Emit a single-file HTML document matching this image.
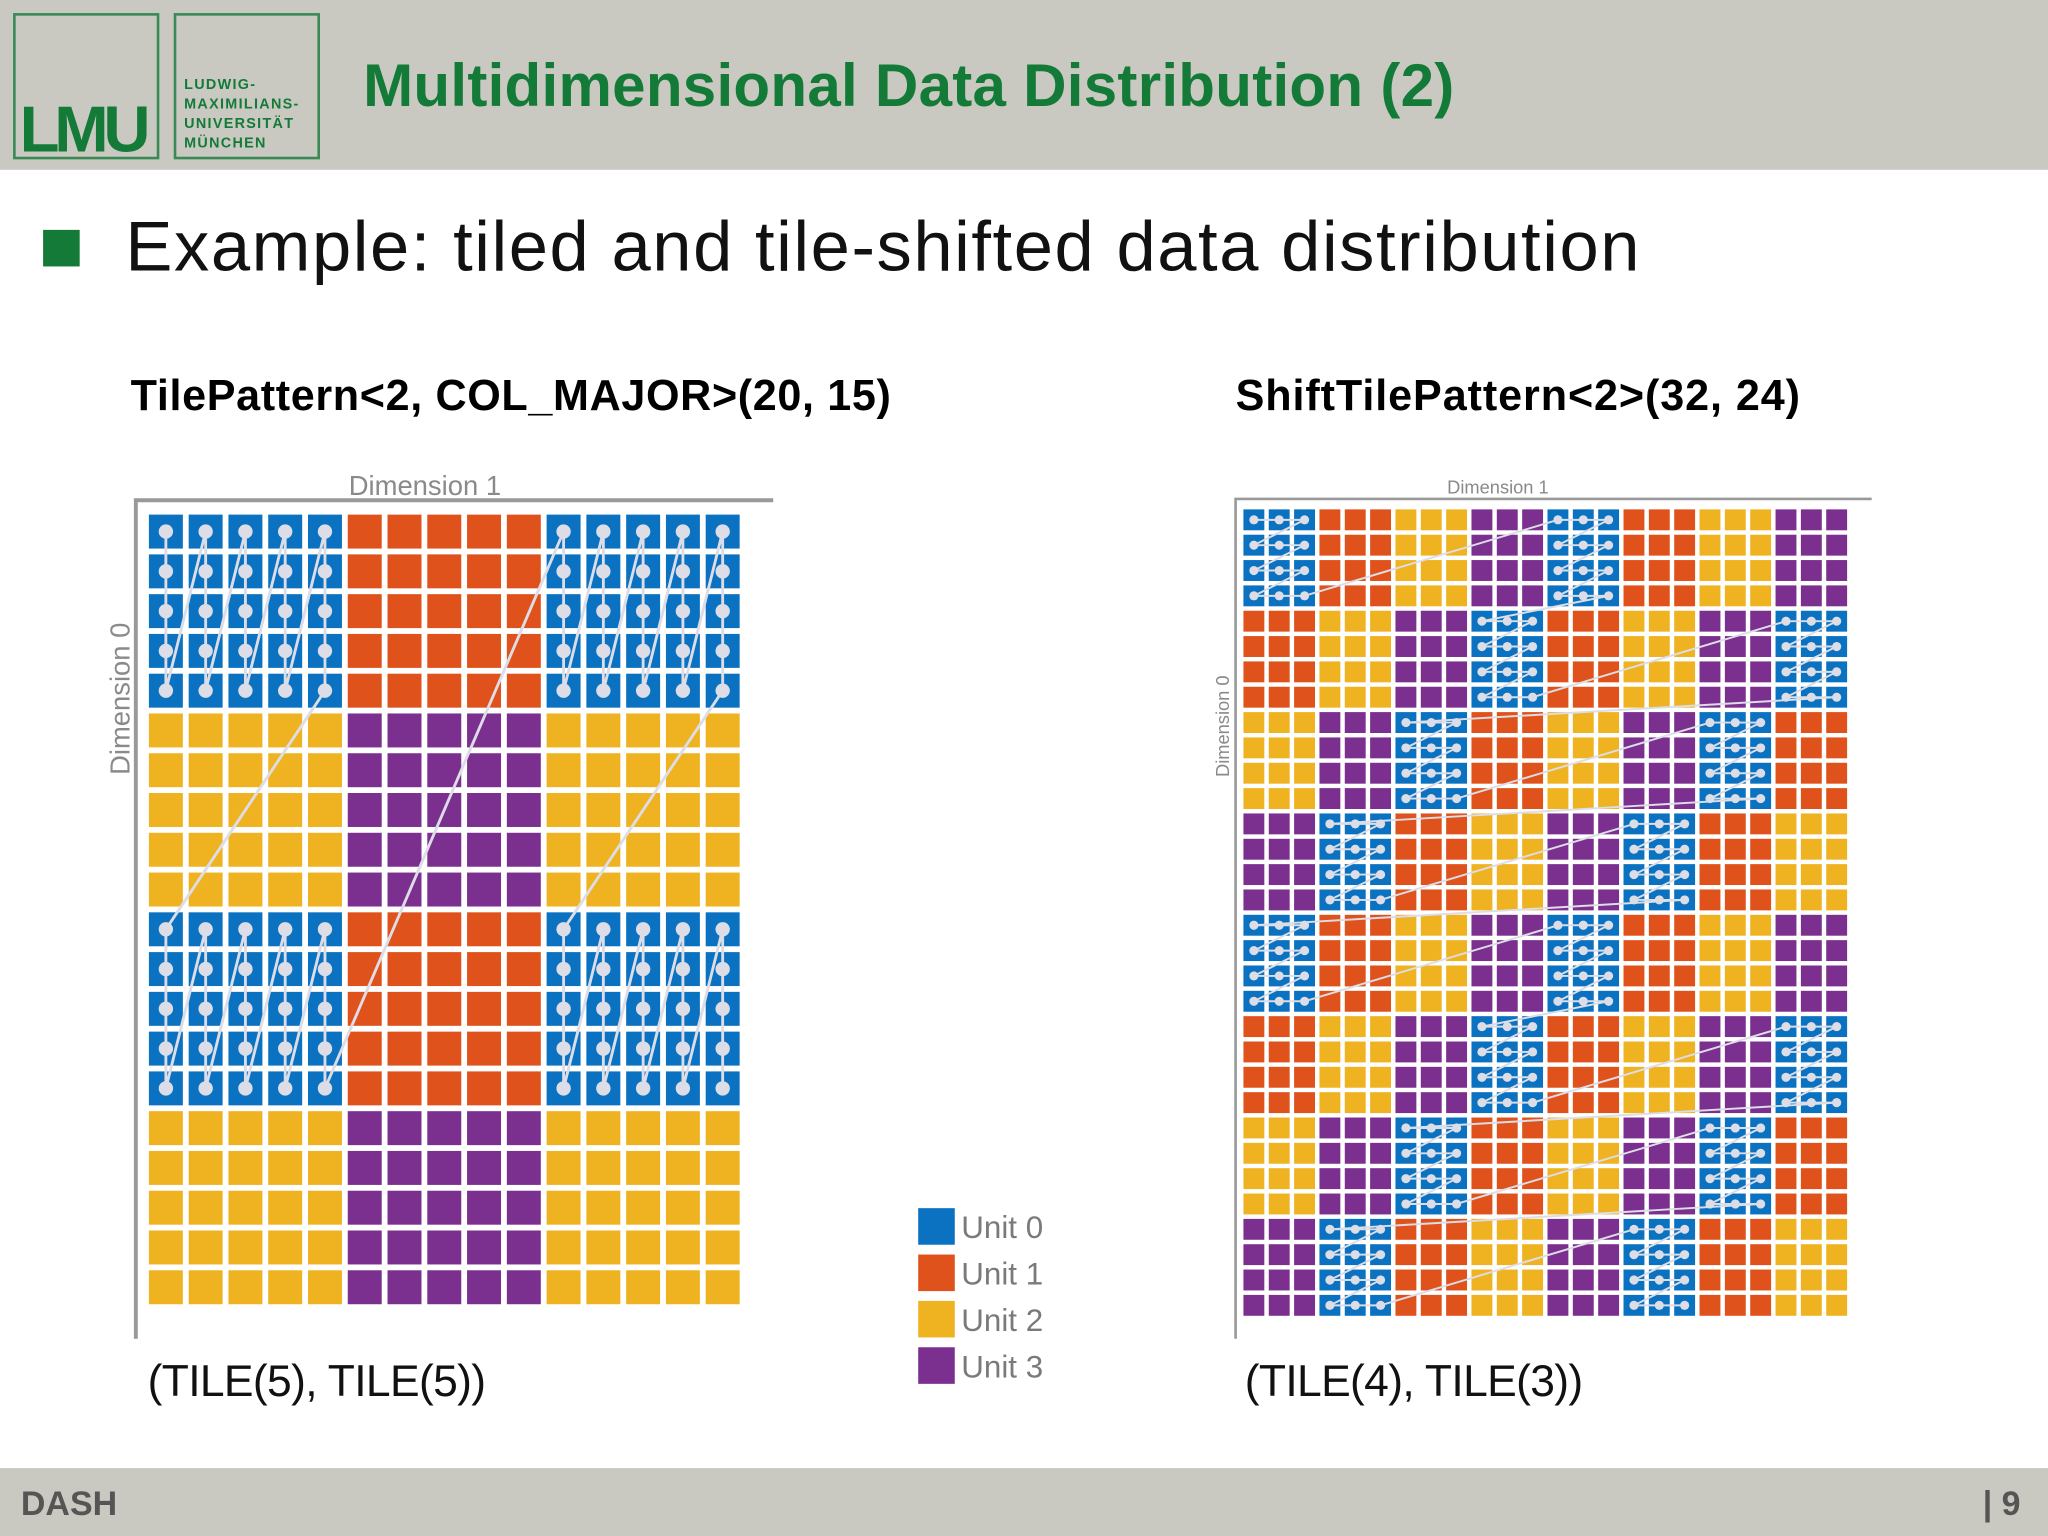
<!DOCTYPE html>
<html><head><meta charset="utf-8"><style>
html,body{margin:0;padding:0;background:#fff;}
#page{position:absolute;left:0;top:0;width:1568px;height:1176px;transform:scale(1.306122);transform-origin:0 0;background:#fff;overflow:hidden;font-family:"Liberation Sans",sans-serif;}
.abs{position:absolute;}
</style></head><body>
<div id="page">
  <div class="abs" style="left:0;top:0;width:1568px;height:130px;background:#c9c9c1;"></div>
  <div class="abs" style="left:10px;top:10px;width:112px;height:112px;border:2px solid #3a8a55;box-sizing:border-box;">
    <div class="abs" style="left:3px;top:62px;font-size:50px;font-weight:bold;color:#137a38;letter-spacing:-4px;line-height:50px;">LMU</div>
  </div>
  <div class="abs" style="left:133px;top:10px;width:112px;height:112px;border:2px solid #3a8a55;box-sizing:border-box;">
    <div class="abs" style="left:6px;top:46px;font-size:11px;font-weight:bold;color:#137a38;line-height:15px;letter-spacing:1px;">LUDWIG-<br>MAXIMILIANS-<br>UNIVERSITÄT<br>MÜNCHEN</div>
  </div>
  <div class="abs" style="left:278px;top:38px;font-size:46px;font-weight:bold;color:#137a38;white-space:nowrap;letter-spacing:0.2px;">Multidimensional Data Distribution (2)</div>
  <div class="abs" style="left:33px;top:176px;width:28px;height:28px;background:#137a38;"></div>
  <div class="abs" style="left:96px;top:158px;font-size:54px;color:#111;white-space:nowrap;letter-spacing:1.2px;">Example: tiled and tile-shifted data distribution</div>
  <div class="abs" style="left:100px;top:284px;font-size:33px;font-weight:bold;color:#000;white-space:nowrap;letter-spacing:0.5px;">TilePattern&lt;2, COL_MAJOR&gt;(20, 15)</div>
  <div class="abs" style="left:946px;top:284px;font-size:33px;font-weight:bold;color:#000;white-space:nowrap;letter-spacing:0.7px;">ShiftTilePattern&lt;2&gt;(32, 24)</div>
  <div class="abs" style="left:113px;top:1039px;font-size:34px;color:#111;white-space:nowrap;letter-spacing:-0.5px;">(TILE(5), TILE(5))</div>
  <div class="abs" style="left:953px;top:1039px;font-size:34px;color:#111;white-space:nowrap;letter-spacing:-0.5px;">(TILE(4), TILE(3))</div>
  <div class="abs" style="left:0;top:1124px;width:1568px;height:52px;background:#c9c9c1;"></div>
  <div class="abs" style="left:16px;top:1136px;font-size:26px;font-weight:bold;color:#555;">DASH</div>
  <div class="abs" style="left:1518px;top:1136px;font-size:26px;font-weight:bold;color:#555;">| 9</div>
  <svg id="chart" class="abs" style="left:0;top:0" width="1568" height="1176"></svg>
</div>
<script>
// data
const unitColors = ["#0a72c0","#e0521b","#efb321","#7b2f8f"];
const unitLabels = ["Unit 0","Unit 1","Unit 2","Unit 3"];
const leftExtents = [20, 15];   // rows (dim 0), cols (dim 1)
const leftTile = [5, 5];
const rightExtents = [32, 24];
const rightTile = [4, 3];

const NS="http://www.w3.org/2000/svg";
const svg=document.getElementById('chart');
function mk(tag,attrs,parent){const e=document.createElementNS(NS,tag);for(const k in attrs)e.setAttribute(k,attrs[k]);(parent||svg).appendChild(e);return e;}

function drawGrid(cfg){
  const [R,C]=cfg.ext,[tr,tc]=cfg.tile;
  const g=mk('g',{});
  
  
  const xs=c=>cfg.x0+c*cfg.pitch, ys=r=>cfg.y0+r*cfg.pitch;
  const ax=mk('path',{d:`M${cfg.ax} ${cfg.ay2} L${cfg.ax} ${cfg.ay} L${cfg.axr} ${cfg.ay}`,stroke:'#999',fill:'none','stroke-width':cfg.aw},g);
  
  
  const t1=mk('text',{x:cfg.l1x,y:cfg.ay-4,'font-size':cfg.lfs,fill:'#8a8a8a','font-family':'Liberation Sans, sans-serif'},g);
  t1.textContent='Dimension 1';
  
  
  const t0=mk('text',{x:0,y:0,'font-size':cfg.lfs,fill:'#8a8a8a','text-anchor':'middle','font-family':'Liberation Sans, sans-serif',transform:`translate(${cfg.ax-5},${cfg.l0y}) rotate(-90)`},g);
  t0.textContent='Dimension 0';
  
  
  const ntr=R/tr, ntc=C/tc;
  const unitOf=cfg.unitOf;
  for(let r=0;r<R;r++)for(let c=0;c<C;c++){
    const u=unitOf(Math.floor(r/tr),Math.floor(c/tc));
    const rc=mk('rect',{x:xs(c),y:ys(r),width:cfg.cell,height:cfg.cell,fill:unitColors[u]},g);
    
    
  }
  const tiles=[];
  if(cfg.colMajor){for(let b=0;b<ntc;b++)for(let a=0;a<ntr;a++)if(unitOf(a,b)===0)tiles.push([a,b]);}
  else{for(let a=0;a<ntr;a++)for(let b=0;b<ntc;b++)if(unitOf(a,b)===0)tiles.push([a,b]);}
  const pts=[];
  tiles.forEach(([a,b])=>{
    if(cfg.colMajor){for(let j=0;j<tc;j++)for(let i=0;i<tr;i++)pts.push([a*tr+i,b*tc+j]);}
    else{for(let i=0;i<tr;i++)for(let j=0;j<tc;j++)pts.push([a*tr+i,b*tc+j]);}
  });
  const h=cfg.cell/2;
  const d=pts.map((p,i)=>(i?'L':'M')+(xs(p[1])+h)+' '+(ys(p[0])+h)).join(' ');
  const pl=mk('path',{d,stroke:'#dcdde6',fill:'none','stroke-width':cfg.lw,'stroke-linejoin':'round'},g);
  
  
  pts.forEach(p=>{
    const dt=mk('circle',{cx:xs(p[1])+h,cy:ys(p[0])+h,r:cfg.dot,fill:'#dcdde6'},g);
    
    
  });
}
drawGrid({name:'tile-pattern-grid',ext:leftExtents,tile:leftTile,x0:114,y0:394,pitch:30.45,cell:26,
  ax:104,ay:383,ay2:1025,axr:592,aw:3,l1x:267,lfs:21,l0y:535,lw:2.2,dot:5.5,colMajor:true,
  unitOf:(a,b)=>(a%2)*2+(b%2)});
drawGrid({name:'shift-tile-pattern-grid',ext:rightExtents,tile:rightTile,x0:952,y0:390,pitch:19.4,cell:16,
  ax:946,ay:382,ay2:1025,axr:1433,aw:2,l1x:1108,lfs:14,l0y:556,lw:1.5,dot:3.5,colMajor:false,
  unitOf:(a,b)=>(a+b)%4});

unitColors.forEach((col,i)=>{
  const y=925+i*35.5;
  const s=mk('rect',{x:703,y:y,width:28,height:28,fill:col});
  
  
  const t=mk('text',{x:736,y:y+23,'font-size':24,fill:'#7a7a7a','font-family':'Liberation Sans, sans-serif'});
  t.textContent=unitLabels[i];
  
  
});
</script>
</body></html>
